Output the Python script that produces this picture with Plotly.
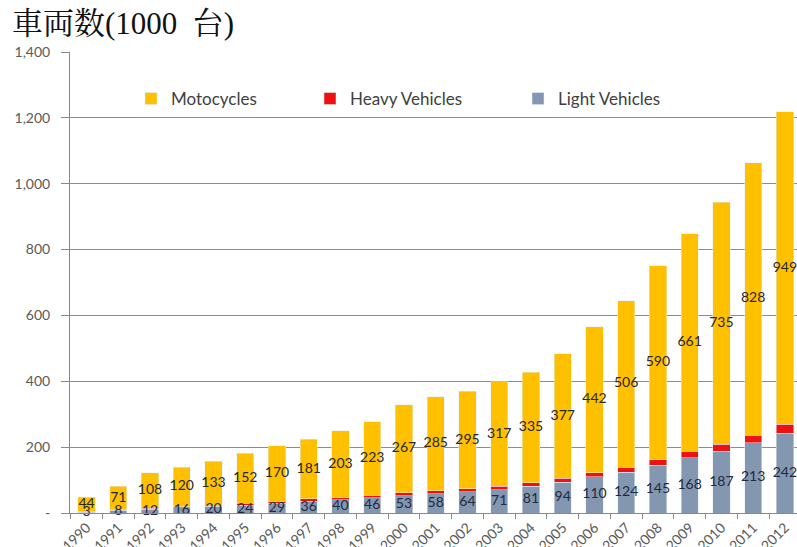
import plotly.graph_objects as go

years = [str(y) for y in range(1990, 2013)]
motorcycles = [44, 71, 108, 120, 133, 152, 170, 181, 203, 223, 267, 285, 295, 317, 335, 377, 442, 506, 590, 661, 735, 828, 949]
heavy = [1, 2, 3, 3, 4, 5, 6, 7, 7, 8, 9, 10, 10, 10, 11, 12, 13, 15, 16, 19, 22, 23, 27]
light = [3, 8, 12, 16, 20, 24, 29, 36, 40, 46, 53, 58, 64, 71, 81, 94, 110, 124, 145, 168, 187, 213, 242]

y_tickvals = [0, 200, 400, 600, 800, 1000, 1200, 1400]
y_ticktext = ["-", "200", "400", "600", "800", "1,000", "1,200", "1,400"]

FONT = "Lato, 'Noto Sans', sans-serif"
W, H = 797, 547
ML, MR, MT, MB = 70, 0, 52, 34
PW, PH = W - ML - MR, H - MT - MB


def px_x(px):
    return (px - ML) / PW


def px_y(py):
    return (H - MB - py) / PH


# label positions derived from the data (segment midpoints)
light_mid = [l / 2 for l in light]
moto_mid = [l + h + m / 2 for l, h, m in zip(light, heavy, motorcycles)]

fig = go.Figure()
fig.add_trace(go.Bar(
    x=years, y=light, name="Light Vehicles", marker_color="#8497B0",
    legend="legend3",
))
fig.add_trace(go.Bar(
    x=years, y=heavy, name="Heavy Vehicles", marker_color="#EE1111",
    legend="legend2",
))
fig.add_trace(go.Bar(
    x=years, y=motorcycles, name="Motocycles", marker_color="#FFC000",
    legend="legend",
))
fig.add_trace(go.Scatter(
    x=years, y=moto_mid, mode="text", text=[str(v) for v in motorcycles],
    textposition="middle center", cliponaxis=False, showlegend=False,
    textfont=dict(color="#262626", size=14, family=FONT), hoverinfo="skip",
))
fig.add_trace(go.Scatter(
    x=years, y=light_mid, mode="text", text=[str(v) for v in light],
    textposition="middle center", cliponaxis=False, showlegend=False,
    textfont=dict(color="#1F2A40", size=14, family=FONT), hoverinfo="skip",
))

leg_common = dict(orientation="h", xref="paper", yref="paper", yanchor="middle",
                  y=px_y(99), xanchor="left", bgcolor="rgba(0,0,0,0)",
                  font=dict(family=FONT, size=17, color="#404040"), itemwidth=30)

fig.update_layout(
    width=W, height=H,
    barmode="stack", bargap=0.46,
    plot_bgcolor="white", paper_bgcolor="white",
    margin=dict(l=ML, r=MR, t=MT, b=MB, autoexpand=False),
    showlegend=True,
    legend=dict(x=px_x(131), **leg_common),
    legend2=dict(x=px_x(310), **leg_common),
    legend3=dict(x=px_x(518), **leg_common),
    xaxis=dict(
        type="category", range=[-0.52, 22.38], automargin=False,
        tickangle=-45, tickfont=dict(family=FONT, size=14, color="#595959"),
        showline=True, linecolor="#888888", linewidth=1,
        ticks="outside", tickson="boundaries", ticklen=5, tickcolor="#888888",
        showgrid=False,
    ),
    yaxis=dict(
        range=[0, 1400], tickvals=y_tickvals, ticktext=y_ticktext, automargin=False,
        tickfont=dict(family=FONT, size=14, color="#595959"),
        showgrid=True, gridcolor="#8c8c8c", gridwidth=1,
        showline=True, linecolor="#888888", linewidth=1,
        ticks="outside", ticklen=8, tickcolor="#888888",
        ticklabelstandoff=8,
        zeroline=False,
    ),
    annotations=[dict(
        text="車両数(1000\u2002台)", xref="paper", yref="paper",
        x=px_x(10), y=px_y(4), xanchor="left", yanchor="top", showarrow=False,
        font=dict(family="'Liberation Serif', 'Noto Serif CJK JP', 'Noto Sans CJK JP', serif", size=31, color="#111111"),
    )],
)

fig.write_html("out.html", config={"displayModeBar": False},
               post_script="document.body.style.margin='0';")
